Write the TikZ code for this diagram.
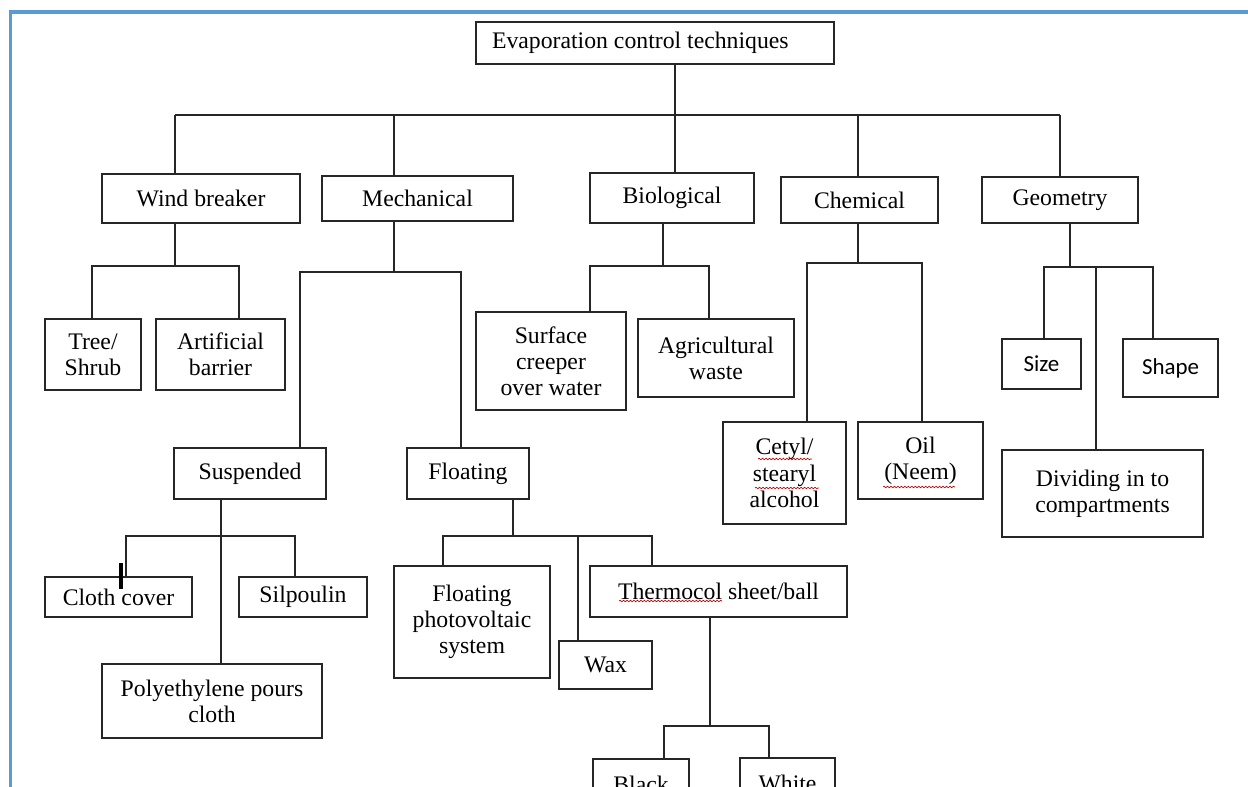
\documentclass[tikz,border=0pt]{standalone}
\usepackage{fontspec}
\setmainfont{Liberation Serif}
\newfontfamily\sansf{Carlito}
\usetikzlibrary{decorations.pathmorphing}
\definecolor{frameblue}{RGB}{91,155,213}
\definecolor{ink}{RGB}{38,38,38}
\tikzset{
  box/.style={draw=ink, line width=1.4pt, rectangle, inner sep=0pt, align=center,
    font=\fontsize{17.8}{19.6}\selectfont, text=black},
  conn/.style={draw=ink, line width=1.4pt},
  squig/.style={draw=red!75!black, line width=0.5pt, decorate,
    decoration={snake, amplitude=0.55pt, segment length=2.6pt}}
}
\newcommand\bx[6]{\node[box, minimum width={0.75pt*(#4-#2)}, minimum height={0.75pt*(#5-#3)}] (#1) at ({(#2+#4)/2},{(#3+#5)/2}) {#6};}
\begin{document}
\begin{tikzpicture}[x=0.75pt, y=-0.75pt]
\useasboundingbox (0,0) rectangle (1248,787);
\clip (0,0) rectangle (1248,787);
\fill[white] (0,0) rectangle (1248,787);
\draw[frameblue, line width=2.4pt] (1250,12) -- (10.5,12) -- (10.5,790);

% boxes
\bx{root}{476}{22}{834}{64}{Evaporation control techniques\hspace*{22pt}}
\bx{wind}{102}{174}{300}{223}{Wind breaker}
\bx{mech}{322}{176}{513}{221}{Mechanical}
\bx{bio}{590}{173}{754}{223}{Biological}
\bx{chem}{781}{177}{938}{223}{Chemical}
\bx{geo}{982}{177}{1138}{223}{Geometry}
\bx{tree}{45}{319}{141}{390}{Tree/\\Shrub}
\bx{art}{156}{319}{285}{390}{Artificial\\barrier}
\bx{surf}{476}{312}{626}{410}{Surface\\creeper\\over water}
\bx{agri}{638}{319}{794}{397}{Agricultural\\waste}
\bx{cetyl}{723}{422}{846}{524}{Cetyl/\\stearyl\\alcohol}
\bx{oil}{858}{422}{983}{499}{Oil\\(Neem)}
\bx{size}{1002}{339}{1081}{389}{\sansf\fontsize{17.2}{19}\selectfont Size}
\bx{shape}{1123}{339}{1218}{397}{\sansf\fontsize{17.2}{19}\selectfont Shape}
\bx{divide}{1002}{450}{1203}{537}{Dividing in to\\compartments}
\bx{susp}{174}{448}{326}{499}{Suspended}
\bx{float}{407}{448}{529}{499}{Floating}
\bx{cloth}{45}{577}{192}{617}{Cloth cover}
\bx{silp}{239}{577}{367}{617}{Silpoulin}
\bx{poly}{102}{664}{322}{738}{Polyethylene pours\\cloth}
\bx{fpv}{394}{566}{550}{678}{Floating\\photovoltaic\\system}
\bx{wax}{559}{641}{652}{689}{Wax}
\bx{thermo}{590}{566}{847}{617}{Thermocol sheet/ball}
\node[box, minimum width={0.75pt*96}, minimum height={0.75pt*50}] (black) at (641,784) {Black};
\node[box, minimum width={0.75pt*95}, minimum height={0.75pt*50}] (white) at (787.5,783) {White};

% junction coordinates
\coordinate (mainL) at (175,115);
\coordinate (mainR) at (1060,115);
\coordinate (jroot) at (675,115);
\coordinate (jmech) at (394,115);
\coordinate (jchem) at (858,115);

% level 1
\draw[conn] (mainL) -- (mainR);
\draw[conn] (root.south -| jroot) -- (bio.north -| jroot);
\draw[conn] (mainL) -- (wind.north -| mainL);
\draw[conn] (jmech) -- (mech.north -| jmech);
\draw[conn] (jchem) -- (chem.north -| jchem);
\draw[conn] (mainR) -- (geo.north -| mainR);

% wind breaker
\coordinate (wb) at (175,266);
\coordinate (wbL) at (92,266);
\coordinate (wbR) at (239,266);
\draw[conn] (wind.south -| wb) -- (wb);
\draw[conn] (tree.north -| wbL) -- (wbL) -- (wbR) -- (art.north -| wbR);

% mechanical
\coordinate (mb) at (394,272);
\coordinate (mbL) at (300,272);
\coordinate (mbR) at (461,272);
\draw[conn] (mech.south -| mb) -- (mb);
\draw[conn] (susp.north -| mbL) -- (mbL) -- (mbR) -- (float.north -| mbR);

% biological
\coordinate (bb) at (663,266);
\coordinate (bbL) at (590,266);
\coordinate (bbR) at (709,266);
\draw[conn] (bio.south -| bb) -- (bb);
\draw[conn] (surf.north -| bbL) -- (bbL) -- (bbR) -- (agri.north -| bbR);

% chemical
\coordinate (cb) at (858,263);
\coordinate (cbL) at (807,263);
\coordinate (cbR) at (922,263);
\draw[conn] (chem.south -| cb) -- (cb);
\draw[conn] (cetyl.north -| cbL) -- (cbL) -- (cbR) -- (oil.north -| cbR);

% geometry
\coordinate (gb) at (1070,267);
\coordinate (gbL) at (1044,267);
\coordinate (gbM) at (1096,267);
\coordinate (gbR) at (1153,267);
\draw[conn] (geo.south -| gb) -- (gb);
\draw[conn] (size.north -| gbL) -- (gbL) -- (gbR) -- (shape.north -| gbR);
\draw[conn] (gbM) -- (divide.north -| gbM);

% suspended
\coordinate (sb) at (221,536);
\coordinate (sbL) at (126,536);
\coordinate (sbR) at (295,536);
\draw[conn] (susp.south -| sb) -- (poly.north -| sb);
\draw[conn] (cloth.north -| sbL) -- (sbL) -- (sbR) -- (silp.north -| sbR);
\draw[black, line width=2.4pt] (121,563) -- (121,589);

% floating
\coordinate (fb) at (513,536);
\coordinate (fbL) at (443,536);
\coordinate (fbM) at (578,536);
\coordinate (fbR) at (652,536);
\draw[conn] (float.south -| fb) -- (fb);
\draw[conn] (fpv.north -| fbL) -- (fbL) -- (fbR) -- (thermo.north -| fbR);
\draw[conn] (fbM) -- (wax.north -| fbM);

% thermocol
\coordinate (tb) at (710,726);
\coordinate (tbL) at (664,726);
\coordinate (tbR) at (769,726);
\draw[conn] (thermo.south -| tb) -- (tb);
\draw[conn] (black.north -| tbL) -- (tbL) -- (tbR) -- (white.north -| tbR);

% spell-check squiggles
\draw[squig] (758,459) -- (812,459);
\draw[squig] (755,488) -- (819,488);
\draw[squig] (883,487) -- (955,487);
\draw[squig] (619,601) -- (722,601);
\end{tikzpicture}
\end{document}
